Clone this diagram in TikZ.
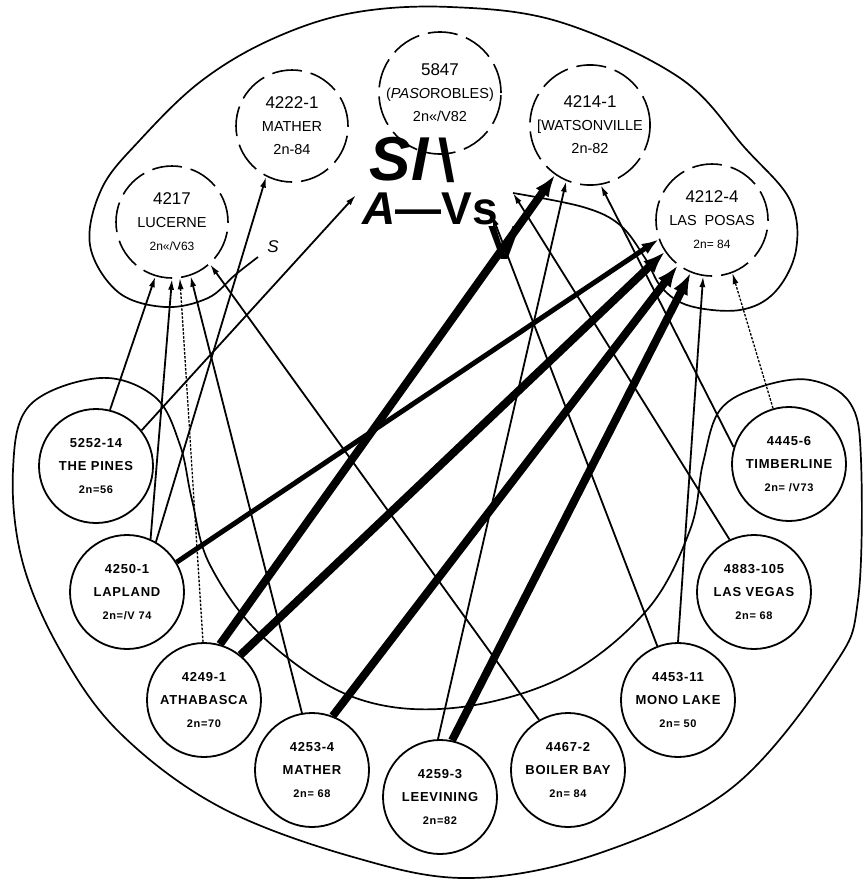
\documentclass[tikz,border=0pt]{standalone}
\usepackage{fontspec}
\setmainfont{Liberation Sans}
\newfontfamily\leroy[LetterSpace=6]{Liberation Sans}
\usetikzlibrary{arrows.meta}
\newcommand\twon[1]{{\fontsize{11}{20}\selectfont #1}}
\newcommand\topid[1]{{\fontsize{17}{23}\selectfont #1}}

\begin{document}
\begin{tikzpicture}[x=1pt,y=-1pt,
    topnode/.style={circle,draw,line width=1.6pt,dash pattern=on 30pt off 9pt,
      minimum size=112pt,inner sep=0pt,align=center,font=\fontsize{14.5}{23}\selectfont},
    botnode/.style={circle,draw,line width=1.8pt,minimum size=114pt,inner sep=0pt,
      align=center,font=\leroy\bfseries\fontsize{13}{23}\selectfont},
    outline/.style={line width=1.7pt},
    link/.style={line width=1.8pt,-{Latex[length=11pt,width=6pt]}},
    faint/.style={line width=1.3pt,dash pattern=on 2.5pt off 1.5pt,-{Latex[length=11pt,width=6pt]}},
    medium/.style={line width=5pt,-{Latex[length=17pt,width=12pt]}},
    heavy/.style={line width=8pt,-{Latex[length=22pt,width=16pt]}},
    ocr/.style={inner sep=0pt,anchor=base,text height=0.7em,text depth=0pt}]
  \useasboundingbox (0,0) rectangle (863,881);

  % group outlines
  \draw[outline] plot[smooth,tension=0.6] coordinates {(258,257) (235,275) (208,298)
    (165,307) (118,292) (90,245) (102,188) (140,140) (200,82) (270,40) (352,13) (450,7)
    (560,22) (680,78) (745,148) (790,200) (796,250) (775,292) (740,310) (690,306)
    (662,288) (645,258) (620,225) (583,207) (513,193)};
  \draw[outline] plot[smooth cycle,tension=0.6] coordinates {(100,378) (155,397)
    (180,445) (192,500) (210,565) (263,637) (353,697) (453,708) (563,677) (647,610)
    (690,530) (703,463) (720,410) (760,387) (810,380) (850,403) (861,460) (858,600)
    (833,667) (733,787) (600,853) (470,878) (353,857) (220,807) (120,733) (60,650)
    (22,560) (13,470) (30,405)};

  % upper group
  \node[topnode] (lucerne) at (172,222) {\topid{4217}\\LUCERNE\\{\fontsize{12}{20}\selectfont 2n«/V63}};
  \node[topnode] (mathertop) at (292,126) {\topid{4222-1}\\MATHER\\2n-84};
  \node[topnode] (paso) at (440,93) {\topid{5847}\\(\textit{PASO}ROBLES)\\2n«/V82};
  \node[topnode] (watson) at (590,125) {\topid{4214-1}\\{[}WATSONVILLE\\2n-82};
  \node[topnode] (lasposas) at (712,220) {\topid{4212-4}\\LAS\ \ POSAS\\{\fontsize{12}{20}\selectfont 2n= 84}};

  % lower group
  \node[botnode] (pines) at (96,466) {5252-14\\THE PINES\\\twon{2n=56}};
  \node[botnode] (lapland) at (127,592) {4250-1\\LAPLAND\\\twon{2n=/V 74}};
  \node[botnode] (athabasca) at (204,700) {4249-1\\ATHABASCA\\\twon{2n=70}};
  \node[botnode] (matherbot) at (312,770) {4253-4\\MATHER\\\twon{2n= 68}};
  \node[botnode] (leevining) at (440,797) {4259-3\\LEEVINING\\\twon{2n=82}};
  \node[botnode] (boilerbay) at (568,770) {4467-2\\BOILER BAY\\\twon{2n= 84}};
  \node[botnode] (monolake) at (678,700) {4453-11\\MONO LAKE\\\twon{2n= 50}};
  \node[botnode] (lasvegas) at (754,592) {4883-105\\LAS VEGAS\\\twon{2n= 68}};
  \node[botnode] (timberline) at (789,464) {4445-6\\TIMBERLINE\\\twon{2n= /V73}};

  \coordinate (grpL) at (356,195);
  \coordinate (grpM) at (492,215);
  \coordinate (grpR) at (513,193);

  % crosses
  \draw[link] (pines.76) -- (lucerne.253);
  \draw[link] (pines.38) -- (grpL);
  \draw[link] (lapland.66) -- (lucerne.270);
  \draw[link] (lapland.60) -- (mathertop.243);
  \draw[medium] (lapland.31) -- (lasposas.200);
  \draw[faint] (athabasca.91) -- (lucerne.278);
  \draw[heavy] (athabasca.74) -- (watson.235);
  \draw[heavy] (athabasca.51) -- (lasposas.214);
  \draw[link] (matherbot.100) -- (lucerne.289);
  \draw[heavy] (matherbot.69) -- (lasposas.233);
  \draw[link] (leevining.92) -- (watson.247);
  \draw[heavy] (leevining.78) -- (lasposas.248);
  \draw[link] (boilerbay.120) -- (lucerne.312);
  \draw[link] (monolake.111) -- (grpM);
  \draw[link] (monolake.90) -- (lasposas.261);
  \draw[link] (lasvegas.115) -- (grpR);
  \draw[faint] (timberline.106) -- (lasposas.291);
  \draw[link] (timberline.163) -- (watson.280);

  % scan residue
  \node[ocr,font=\bfseries\itshape\fontsize{62}{62}\selectfont] (ocrSI) at (399,180) {SI};
  \node[ocr,font=\bfseries\fontsize{60}{60}\selectfont] (ocrBS) at (447,181) {\textbackslash};
  \node[ocr,font=\bfseries\fontsize{46}{46}\selectfont] (ocrAV) at (430,224) {\textit{A}—Vs};
  \node[ocr,font=\bfseries\fontsize{48}{48}\selectfont] (ocrV) at (505,259) {V};
  \node[inner sep=0pt,font=\itshape\fontsize{17}{17}\selectfont] (ocrS) at (273,247) {S};
\end{tikzpicture}
\end{document}
